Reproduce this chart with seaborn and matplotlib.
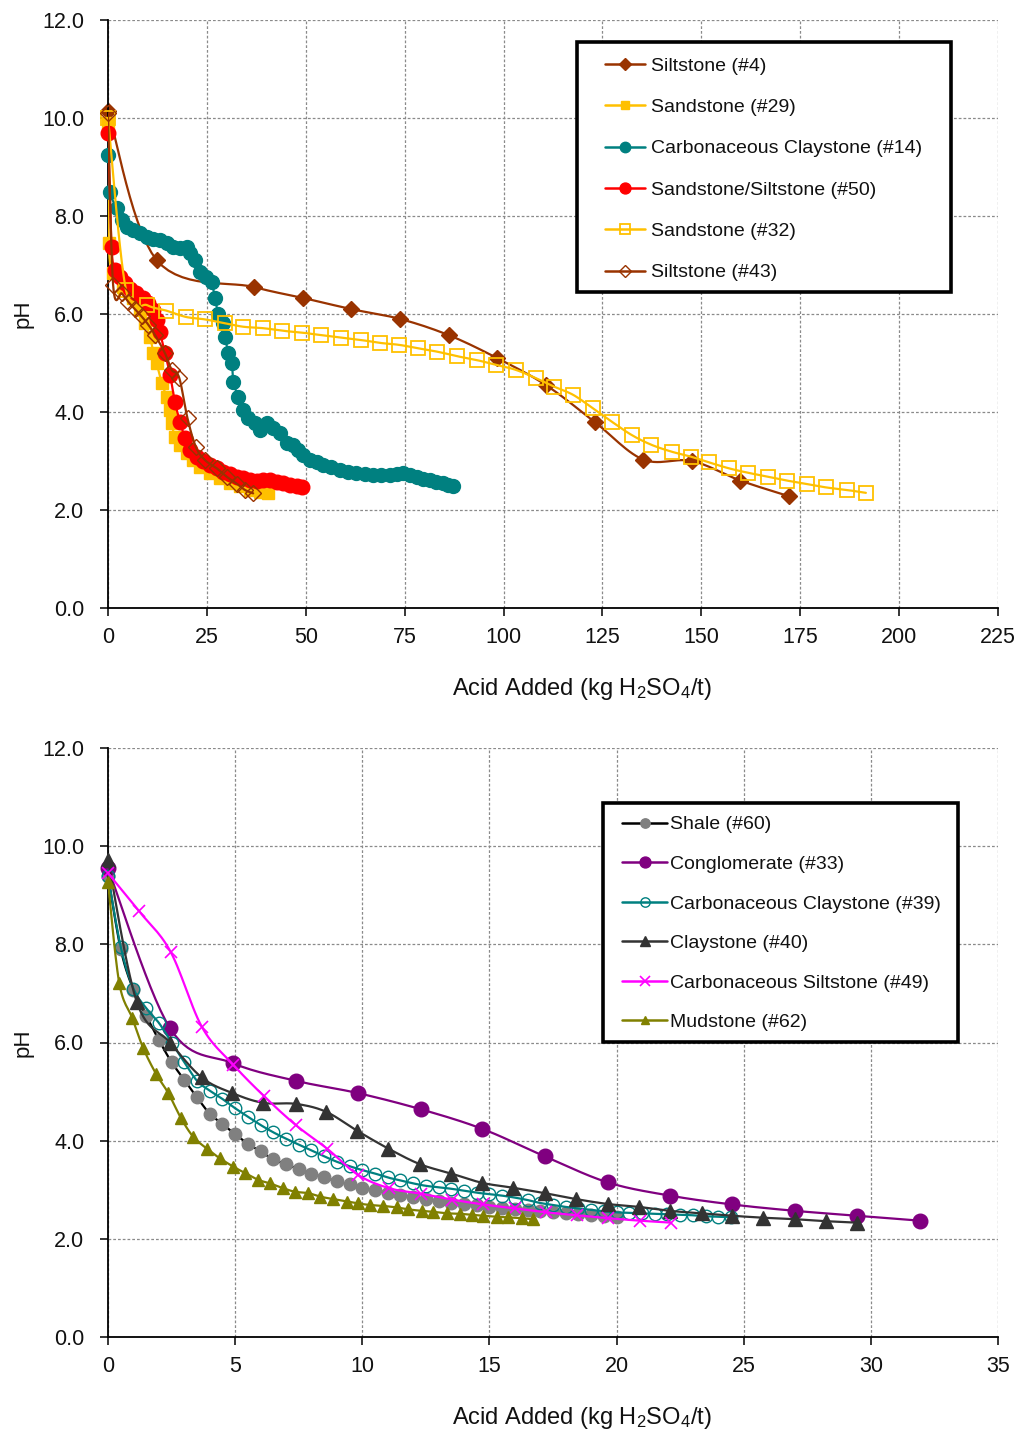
import numpy as np
import pandas as pd
import matplotlib
matplotlib.use("Agg")
import matplotlib.pyplot as plt
import seaborn as sns
from matplotlib.lines import Line2D
from matplotlib.patches import Rectangle

# ---------------- data: top chart ----------------
silt4_x = [0, 12.3, 36.9, 49.2, 61.5, 73.8, 86.1, 98.4, 110.7, 123.0, 135.3, 147.6, 159.9, 172.2]
silt4_y = [10.15, 7.10, 6.55, 6.33, 6.10, 5.90, 5.57, 5.10, 4.55, 3.80, 3.03, 3.00, 2.60, 2.28]

sand29_x = [0, 0.2, 1.3, 3.9, 6.4, 8.1, 9.4, 10.6, 11.5, 12.3, 13.6, 14.8, 15.7, 16.1, 16.9, 18.2,
            19.9, 21.6, 23.3, 25.8, 28.3, 30.8, 33.4, 35.9, 38.4, 40.5]
sand29_y = [9.90, 7.45, 6.83, 6.56, 6.32, 6.08, 5.81, 5.54, 5.20, 4.99, 4.59, 4.31, 4.04, 3.77, 3.50, 3.33,
            3.16, 3.02, 2.88, 2.75, 2.65, 2.55, 2.48, 2.41, 2.37, 2.35]

cclay14_x = [0, 0.5, 2.2, 3.5, 4.7, 6.4, 8.1, 9.8, 11.4, 13.1, 14.8, 16.5, 18.2, 19.9, 20.7, 22.0,
             23.3, 24.9, 26.2, 27.0, 27.9, 29.1, 29.6, 30.4, 31.3, 31.7, 32.9, 34.2, 35.5, 37.2,
             38.4, 40.1, 41.8, 43.5, 45.2, 46.8, 48.1, 49.4, 51.1, 52.8, 54.4, 56.5, 58.6, 60.7,
             62.8, 64.9, 67.0, 69.1, 71.3, 73.0, 74.6, 76.3, 78.0, 79.7, 81.4, 83.0, 84.7, 86.0, 87.3]
cclay14_y = [9.24, 8.50, 8.16, 7.92, 7.78, 7.71, 7.65, 7.58, 7.54, 7.51, 7.44, 7.37, 7.34, 7.37, 7.24, 7.10,
             6.86, 6.76, 6.66, 6.32, 6.01, 5.81, 5.54, 5.20, 4.99, 4.62, 4.31, 4.04, 3.87, 3.77,
             3.63, 3.77, 3.67, 3.57, 3.36, 3.33, 3.22, 3.12, 3.02, 2.97, 2.92, 2.87, 2.82, 2.78,
             2.75, 2.73, 2.71, 2.71, 2.71, 2.73, 2.75, 2.71, 2.68, 2.64, 2.61, 2.58, 2.55, 2.51, 2.48]

sandsilt50_x = [0, 0.9, 1.8, 3.0, 4.3, 5.6, 7.2, 8.9, 10.2, 11.5, 12.3, 13.1, 14.4, 15.7, 16.9, 18.2,
                19.5, 20.7, 22.4, 24.1, 25.8, 27.5, 29.1, 30.8, 32.5, 34.2, 35.9, 37.6, 39.3, 40.9,
                42.6, 44.3, 46.0, 47.7, 49.0]
sandsilt50_y = [9.69, 7.37, 6.90, 6.76, 6.63, 6.52, 6.42, 6.32, 6.22, 6.08, 5.88, 5.64, 5.20, 4.76, 4.21, 3.80,
                3.46, 3.22, 3.09, 2.99, 2.92, 2.85, 2.78, 2.73, 2.68, 2.65, 2.61, 2.60, 2.61, 2.61,
                2.58, 2.55, 2.51, 2.48, 2.46]

sand32_x = [0, 4.55, 9.9, 14.7, 19.7, 24.5, 29.6, 34.2, 39.3, 43.9, 49.0, 53.8, 58.8, 63.9, 68.8, 73.6,
            78.4, 83.3, 88.2, 93.2, 98.2, 103.1, 108.2, 112.7, 117.6, 122.5, 127.4, 132.4, 137.4,
            142.5, 147.3, 152.0, 157.0, 161.8, 166.9, 171.7, 176.7, 181.6, 186.7, 191.6]
sand32_y = [10.0, 6.49, 6.18, 6.07, 5.94, 5.89, 5.81, 5.74, 5.71, 5.66, 5.62, 5.57, 5.52, 5.47, 5.41, 5.37,
            5.30, 5.23, 5.14, 5.06, 4.96, 4.86, 4.69, 4.52, 4.35, 4.08, 3.80, 3.53, 3.33,
            3.19, 3.09, 2.97, 2.85, 2.76, 2.68, 2.60, 2.53, 2.46, 2.41, 2.35]

silt43_x = [0, 1.3, 3.5, 5.1, 6.8, 8.5, 10.2, 11.9, 14.4, 16.1, 18.0, 20.1, 22.2, 24.5, 27.5, 30.0,
            32.5, 34.6, 36.7]
silt43_y = [10.10, 6.59, 6.42, 6.25, 6.10, 5.95, 5.78, 5.57, 5.20, 4.86, 4.70, 3.87, 3.29, 3.02, 2.85, 2.68,
            2.54, 2.41, 2.34]

# ---------------- data: bottom chart ----------------
shale60_x = [0, 0.5, 1.0, 1.5, 2.0, 2.5, 3.0, 3.5, 4.0, 4.5, 5.0, 5.5, 6.0, 6.5, 7.0, 7.5, 8.0, 8.5,
             9.0, 9.5, 10.0, 10.5, 11.0, 11.5, 12.0, 12.5, 13.0, 13.5, 14.0, 14.5, 15.0, 15.5, 16.0,
             16.5, 17.0, 17.5, 18.0, 18.5, 19.0, 19.5, 20.0]
shale60_y = [9.40, 7.90, 7.07, 6.55, 6.05, 5.60, 5.24, 4.88, 4.55, 4.34, 4.13, 3.94, 3.78, 3.62, 3.52, 3.42,
             3.33, 3.25, 3.17, 3.11, 3.04, 2.99, 2.94, 2.89, 2.85, 2.81, 2.77, 2.74, 2.71, 2.68, 2.65,
             2.63, 2.60, 2.58, 2.56, 2.54, 2.52, 2.50, 2.49, 2.47, 2.45]

congl33_x = [0, 2.44, 4.90, 7.38, 9.82, 12.30, 14.72, 17.18, 19.65, 22.10, 24.55, 27.02, 29.47, 31.93]
congl33_y = [9.55, 6.29, 5.58, 5.22, 4.97, 4.64, 4.24, 3.68, 3.15, 2.88, 2.70, 2.57, 2.47, 2.37]

cclay39_x = [0, 0.5, 1.0, 1.5, 2.0, 2.5, 3.0, 3.5, 4.0, 4.5, 5.0, 5.5, 6.0, 6.5, 7.0, 7.5, 8.0, 8.5,
             9.0, 9.5, 10.0, 10.5, 11.0, 11.5, 12.0, 12.5, 13.0, 13.5, 14.0, 14.5, 15.0, 15.5, 16.0,
             16.5, 17.0, 17.5, 18.0, 18.5, 19.0, 19.5, 20.0, 20.5, 21.0, 21.5, 22.0, 22.5, 23.0, 23.5,
             24.0, 24.5]
cclay39_y = [9.40, 7.95, 7.10, 6.70, 6.40, 6.00, 5.60, 5.22, 5.02, 4.85, 4.66, 4.49, 4.32, 4.17, 4.04, 3.92,
             3.80, 3.68, 3.57, 3.48, 3.40, 3.33, 3.25, 3.19, 3.13, 3.08, 3.05, 3.02, 2.98, 2.94, 2.91,
             2.88, 2.84, 2.79, 2.73, 2.69, 2.65, 2.62, 2.59, 2.56, 2.54, 2.53, 2.52, 2.51, 2.50, 2.49,
             2.48, 2.46, 2.45, 2.44]

clay40_x = [0, 1.13, 2.44, 3.68, 4.89, 6.11, 7.38, 8.57, 9.80, 11.02, 12.27, 13.50, 14.72, 15.94, 17.18,
            18.40, 19.65, 20.88, 22.10, 23.35, 24.55, 25.77, 27.02, 28.22, 29.44]
clay40_y = [9.72, 6.83, 6.00, 5.29, 4.97, 4.77, 4.75, 4.59, 4.20, 3.84, 3.52, 3.33, 3.14, 3.04, 2.93,
            2.81, 2.71, 2.65, 2.57, 2.52, 2.47, 2.43, 2.40, 2.36, 2.33]

csilt49_x = [0, 1.23, 2.46, 3.69, 4.92, 6.15, 7.38, 8.61, 9.84, 11.07, 12.30, 13.53, 14.76, 15.99, 17.22,
             18.45, 19.68, 20.91, 22.14]
csilt49_y = [9.45, 8.67, 7.85, 6.32, 5.55, 4.90, 4.32, 3.84, 3.30, 3.03, 2.92, 2.80, 2.70, 2.62, 2.54,
             2.48, 2.42, 2.37, 2.33]

mud62_x = [0, 0.44, 0.96, 1.39, 1.89, 2.37, 2.87, 3.35, 3.88, 4.40, 4.93, 5.39, 5.91, 6.37, 6.89, 7.35,
           7.88, 8.34, 8.86, 9.39, 9.84, 10.30, 10.83, 11.35, 11.81, 12.34, 12.79, 13.32, 13.84, 14.30,
           14.76, 15.28, 15.74, 16.27, 16.72]
mud62_y = [9.27, 7.22, 6.49, 5.88, 5.36, 4.97, 4.46, 4.08, 3.84, 3.64, 3.47, 3.34, 3.20, 3.13, 3.03, 2.96,
           2.93, 2.86, 2.81, 2.76, 2.72, 2.69, 2.67, 2.64, 2.60, 2.57, 2.55, 2.52, 2.51, 2.49,
           2.47, 2.45, 2.44, 2.42, 2.40]

top_xticks = [0, 25, 50, 75, 100, 125, 150, 175, 200, 225]
bot_xticks = [0, 5, 10, 15, 20, 25, 30, 35]
yticks = [0, 2, 4, 6, 8, 10, 12]

# ---------------- style ----------------
sns.set_theme(style="white")
plt.rcParams["font.family"] = ["Liberation Sans", "DejaVu Sans"]
plt.rcParams["mathtext.default"] = "regular"

fig = plt.figure(figsize=(10.21, 14.32), dpi=100)
W, H = 1021, 1432


def axes_rect(x0, x1, ytop, ybot):
    return [x0 / W, 1 - ybot / H, (x1 - x0) / W, (ybot - ytop) / H]


ax1 = fig.add_axes(axes_rect(108, 998, 20, 608))
ax2 = fig.add_axes(axes_rect(108, 998, 748, 1337))


def smooth(ax, xs, ys, n=14):
    """Excel-like smoothed line (Catmull-Rom) computed in display space."""
    P = ax.transData.transform(np.column_stack([xs, ys]))
    m = len(P)
    if m < 3:
        return np.asarray(xs), np.asarray(ys)
    out = [P[0]]
    t = np.linspace(0, 1, n + 1)[1:]
    for i in range(m - 1):
        p0 = P[i - 1] if i > 0 else P[i]
        p1 = P[i]
        p2 = P[i + 1]
        p3 = P[i + 2] if i + 2 < m else P[i + 1]
        c1 = p1 + (p2 - p0) / 6.0
        c2 = p2 - (p3 - p1) / 6.0
        for tt in t:
            b = ((1 - tt) ** 3) * p1 + 3 * ((1 - tt) ** 2) * tt * c1 + 3 * (1 - tt) * tt ** 2 * c2 + tt ** 3 * p2
            out.append(b)
    D = ax.transData.inverted().transform(np.array(out))
    return D[:, 0], D[:, 1]


def setup(ax, xmax, xticks):
    ax.set_xlim(0, xmax)
    ax.set_ylim(0, 12)
    ax.set_xticks(xticks)
    ax.set_yticks(yticks)
    ax.set_yticklabels([f"{v:.1f}" for v in yticks])
    ax.grid(True, color="#8a8a8a", linestyle=(0, (2.2, 1.6)), linewidth=0.9)
    for s in ["top", "right"]:
        ax.spines[s].set_visible(False)
    for s in ["left", "bottom"]:
        ax.spines[s].set_color("black")
        ax.spines[s].set_linewidth(1.3)
    ax.tick_params(axis="both", which="major", direction="out", length=6, width=1.1,
                   color="black", labelsize=15.5, labelcolor="#111111", left=True, bottom=True)
    ax.tick_params(axis="y", pad=11)
    ax.tick_params(axis="x", pad=8)
    ax.set_xlabel("Acid Added (kg H$_2$SO$_4$/t)", fontsize=17, labelpad=20, color="#111111")
    ax.xaxis.label.set_x(0.533)
    ax.set_ylabel("pH", fontsize=16, labelpad=6, color="#111111")


setup(ax1, 225, top_xticks)
setup(ax2, 35, bot_xticks)


def draw(ax, xs, ys, color, marker, ms, mfc, mec, mew=1.0, lw=1.6, lc=None, z=2):
    lc = lc or color
    sx, sy = smooth(ax, xs, ys)
    df = pd.DataFrame({"x": sx, "y": sy})
    sns.lineplot(data=df, x="x", y="y", sort=False, estimator=None, ax=ax,
                 color=lc, linewidth=lw, zorder=z)
    ax.plot(xs, ys, linestyle="none", marker=marker, markersize=ms,
            markerfacecolor=mfc, markeredgecolor=mec, markeredgewidth=mew, zorder=z + 0.5,
            clip_on=False)


BROWN = "#993300"
YEL = "#FFC000"
TEAL = "#008080"
RED = "#FF0000"

top_series = [
    ("Siltstone (#4)", silt4_x, silt4_y, BROWN, "D", 8.5, BROWN, BROWN, 1.0),
    ("Sandstone (#29)", sand29_x, sand29_y, YEL, "s", 8, YEL, YEL, 1.0),
    ("Carbonaceous Claystone (#14)", cclay14_x, cclay14_y, TEAL, "o", 10, TEAL, TEAL, 1.0),
    ("Sandstone/Siltstone (#50)", sandsilt50_x, sandsilt50_y, RED, "o", 10.5, RED, RED, 1.0),
    ("Sandstone (#32)", sand32_x, sand32_y, YEL, "s", 9.5, "none", YEL, 1.3),
    ("Siltstone (#43)", silt43_x, silt43_y, BROWN, "D", 8, "none", BROWN, 1.0),
]

for i, (lab, xs, ys, c, mk, ms, fc, ec, mew) in enumerate(top_series):
    draw(ax1, xs, ys, c, mk, ms, fc, ec, mew, z=2 + i)

GRAY = "#808080"
PURPLE = "#800080"
DARK = "#333333"
MAG = "#FF00FF"
OLIVE = "#808000"

bot_series = [
    ("Shale (#60)", shale60_x, shale60_y, GRAY, "o", 9, GRAY, GRAY, 1.0, "black"),
    ("Conglomerate (#33)", congl33_x, congl33_y, PURPLE, "o", 10.5, PURPLE, PURPLE, 1.0, PURPLE),
    ("Carbonaceous Claystone (#39)", cclay39_x, cclay39_y, TEAL, "o", 9, "none", TEAL, 1.0, TEAL),
    ("Claystone (#40)", clay40_x, clay40_y, DARK, "^", 9.5, DARK, DARK, 1.0, DARK),
    ("Carbonaceous Siltstone (#49)", csilt49_x, csilt49_y, MAG, "x", 9, MAG, MAG, 1.2, MAG),
    ("Mudstone (#62)", mud62_x, mud62_y, OLIVE, "^", 8.5, OLIVE, OLIVE, 1.0, OLIVE),
]

for i, (lab, xs, ys, c, mk, ms, fc, ec, mew, lc) in enumerate(bot_series):
    draw(ax2, xs, ys, c, mk, ms, fc, ec, mew, lc=lc, z=2 + i)


def make_legend(ax, series, anchor, rect, fs, lsp, hlen, htp):
    handles = []
    for s in series:
        lab, xs, ys, c, mk, ms, fc, ec, mew = s[:9]
        lc = s[9] if len(s) > 9 else c
        handles.append(Line2D([0], [0], color=lc, lw=1.8, marker=mk, markersize=ms * 0.75,
                              markerfacecolor=fc, markeredgecolor=ec, markeredgewidth=mew,
                              label=lab))
    leg = ax.legend(handles=handles, loc="upper left", bbox_to_anchor=anchor,
                    frameon=False, fontsize=fs, labelspacing=lsp, handlelength=hlen,
                    handletextpad=htp, borderpad=0, borderaxespad=0, labelcolor="#111111")
    leg.set_zorder(20)
    r = Rectangle((rect[0], rect[1]), rect[2], rect[3], transform=ax.transAxes,
                  facecolor="white", edgecolor="black", linewidth=2.6, zorder=19, clip_on=False)
    ax.add_patch(r)
    return leg


make_legend(ax1, top_series, (0.558, 0.937), (0.527, 0.537, 0.420, 0.426), 14, 1.22, 2.1, 0.3)
make_legend(ax2, bot_series, (0.578, 0.885), (0.556, 0.501, 0.399, 0.406), 14, 1.13, 2.3, 0.15)

fig.savefig("out.png", dpi=100, facecolor="white")
